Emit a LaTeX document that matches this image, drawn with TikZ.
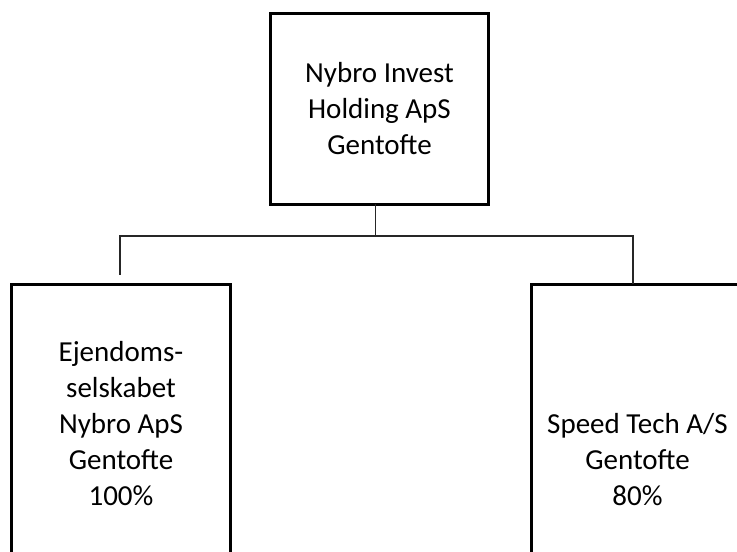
\documentclass[tikz,border=0pt]{standalone}
\usepackage{fontspec}
\setmainfont{Carlito}
\begin{document}
\begin{tikzpicture}[x=1pt,y=1pt,
  box/.style={draw, line width=3pt, inner sep=0pt, outer sep=0pt, align=center,
    font=\fontsize{29}{36}\selectfont},
  link/.style={line width=1.3pt, draw=black!85}]
\useasboundingbox (0,0) rectangle (737,552);
\clip (0,0) rectangle (737,552);
\node[box, minimum width=218pt, minimum height=191pt] (top) at (379.5,443)
  {Nybro Invest\\Holding ApS\\Gentofte};
\node[box, minimum width=219pt, minimum height=279pt] (left) at (121,128)
  {Ejendoms-\\selskabet\\Nybro ApS\\Gentofte\\100\%};
\node[box, minimum width=212pt, minimum height=351pt] (right) at (637.5,92)
  {Speed Tech A/S\\Gentofte\\80\%};
\coordinate (j) at (375.5,316);
\coordinate (lj) at (120,316);
\coordinate (lend) at (120,277);
\coordinate (rj) at (633,316);
\draw[link] (top.south -| j) -- (j);
\draw[link] (lend) -- (lj) -- (rj) -- (rj |- right.north);
\end{tikzpicture}
\end{document}
